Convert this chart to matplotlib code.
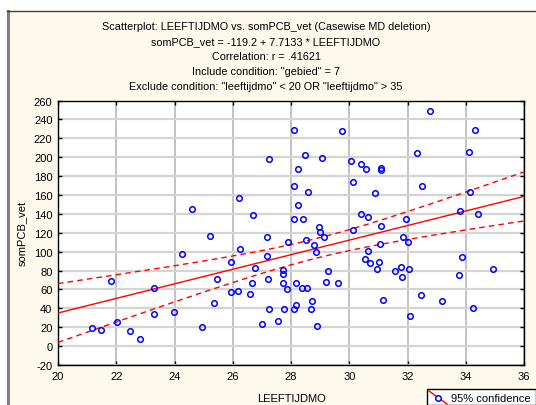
import numpy as np
import matplotlib
matplotlib.use("Agg")
import matplotlib.pyplot as plt
from matplotlib.lines import Line2D
from matplotlib.patches import Rectangle

plt.rcParams['font.family'] = ['Liberation Sans', 'DejaVu Sans']
plt.rcParams['axes.unicode_minus'] = False

# ---- data ----
leeftijdmo = [21.18, 21.48, 21.81, 22.02, 22.47, 22.83, 23.28, 23.28, 23.97, 24.25,
              24.60, 24.96, 25.23, 25.35, 25.46, 25.95, 25.94, 26.17, 26.20, 26.26,
              26.60, 26.66, 26.70, 26.77, 27.01, 27.16, 27.19, 27.21, 27.23, 27.24,
              27.54, 27.71, 27.74, 27.74, 27.76, 27.86, 27.90, 28.09, 28.09, 28.11,
              28.12, 28.17, 28.17, 28.23, 28.25, 28.37, 28.41, 28.48, 28.50, 28.56,
              28.58, 28.68, 28.72, 28.80, 28.86, 28.88, 28.97, 28.99, 29.05, 29.13,
              29.21, 29.27, 29.60, 29.76, 30.07, 30.12, 30.12, 30.40, 30.40, 30.54,
              30.58, 30.63, 30.63, 30.72, 30.90, 30.94, 31.02, 31.05, 31.10, 31.10,
              31.10, 31.16, 31.57, 31.79, 31.80, 31.85, 31.96, 32.02, 32.04, 32.10,
              32.31, 32.47, 32.50, 32.78, 33.20, 33.76, 33.81, 33.88, 34.10, 34.16,
              34.25, 34.33, 34.43, 34.92]
sompcb_vet = [19, 17, 69, 26, 16, 7, 61, 34, 36, 97,
              145, 20, 117, 46, 71, 89, 57, 58, 157, 103,
              55, 67, 139, 83, 23, 95, 116, 71, 39, 198,
              27, 81, 76, 67, 39, 60, 110, 229, 135, 39,
              169, 67, 44, 149, 187, 61, 135, 202, 112, 61,
              163, 39, 48, 107, 100, 21, 126, 121, 199, 115,
              68, 80, 67, 228, 196, 174, 123, 193, 140, 92,
              188, 137, 101, 88, 162, 82, 89, 108, 127, 189,
              186, 49, 80, 84, 73, 116, 135, 110, 82, 32,
              204, 54, 169, 249, 48, 75, 143, 94, 206, 163,
              40, 229, 140, 82]
intercept = -119.2
slope = 7.7133

title_lines = [
    "Scatterplot: LEEFTIJDMO vs. somPCB_vet (Casewise MD deletion)",
    "somPCB_vet = -119.2 + 7.7133 * LEEFTIJDMO",
    "Correlation: r = .41621",
    "Include condition: \"gebied\" = 7",
    "Exclude condition: \"leeftijdmo\" < 20 OR \"leeftijdmo\" > 35",
]
x_ticks = [20, 22, 24, 26, 28, 30, 32, 34, 36]
y_ticks = list(range(-20, 261, 20))

# ---- figure ----
W, H = 536, 406
fig = plt.figure(figsize=(W / 100, H / 100), dpi=100)
fig.patch.set_facecolor('white')
# cream panel with border
fig.patches.append(Rectangle((7 / W, 0), 1 - 7 / W, 1 - 12 / H, transform=fig.transFigure,
                             facecolor='#FDF9EC', edgecolor='none', zorder=-2))
fig.lines.append(Line2D([8 / W, 8 / W], [0, 1 - 12 / H], transform=fig.transFigure,
                        color='#808080', lw=2.2, zorder=-1))
fig.lines.append(Line2D([7 / W, 1], [1 - 12 / H, 1 - 12 / H], transform=fig.transFigure,
                        color='#404040', lw=1.0, zorder=-1))

ax = fig.add_axes([58 / W, 1 - 366 / H, (524 - 58) / W, (366 - 101.5) / H])
ax.set_zorder(1)
ax.set_facecolor('white')

x = np.array(leeftijdmo)
y = np.array(sompcb_vet)
ax.plot(x, y, linestyle='none', marker='o', markersize=4.0, markerfacecolor='none',
        markeredgecolor='#0000FF', markeredgewidth=1.1, zorder=4)

xs = np.linspace(x_ticks[0], x_ticks[-1], 200)
yhat = intercept + slope * xs
n = len(x)
res = y - (intercept + slope * x)
s = np.sqrt(np.sum(res ** 2) / (n - 2))
sxx = np.sum((x - x.mean()) ** 2)
tval = 1.984
hw = tval * s * np.sqrt(1 / n + (xs - x.mean()) ** 2 / sxx)
ax.plot(xs, yhat, color='#FF0000', lw=1.0, zorder=3)
ax.plot(xs, yhat + hw, color='#FF0000', lw=1.0, ls=(0, (4, 3)), zorder=3)
ax.plot(xs, yhat - hw, color='#FF0000', lw=1.0, ls=(0, (4, 3)), zorder=3)

ax.set_xlim(x_ticks[0], x_ticks[-1])
ax.set_ylim(y_ticks[0], y_ticks[-1])
ax.set_xticks(x_ticks)
ax.set_yticks(y_ticks)
ax.xaxis.grid(True, color='#B8B8B8', lw=1.2)
ax.yaxis.grid(True, color='#D4D4D4', lw=1.6)
ax.set_axisbelow(True)
ax.tick_params(direction='in', length=3, width=1, top=True, right=True,
               labelsize=8, colors='black', pad=4)
for sp in ax.spines.values():
    sp.set_color('black')
    sp.set_linewidth(1.0)

ax.set_xlabel("LEEFTIJDMO", fontsize=8, labelpad=9)
ax.set_ylabel("somPCB_vet", fontsize=8, labelpad=5)

for i, t in enumerate(title_lines):
    fig.text(266 / W, 1 - (27 + 15 * i) / H, t, ha='center', va='center', fontsize=7.85)

# legend box
fig.patches.append(Rectangle((427 / W, 0), 1 - 427 / W, (406 - 390) / H,
                             transform=fig.transFigure, facecolor='white',
                             edgecolor='black', lw=1.0, zorder=5))
fig.lines.append(Line2D([429 / W, 447 / W], [1 - 392 / H, 1 - 405 / H],
                        transform=fig.transFigure, color='#FF0000', lw=1.0, zorder=6))
fig.lines.append(Line2D([438 / W], [1 - 399 / H], transform=fig.transFigure,
                        marker='o', markersize=4.0, markerfacecolor='white',
                        markeredgecolor='#0000FF', markeredgewidth=1.1, zorder=7))
fig.text(451 / W, 1 - 399 / H, "95% confidence", ha='left', va='center', fontsize=8, zorder=8)

fig.savefig("out.png", dpi=100, facecolor=fig.get_facecolor())
